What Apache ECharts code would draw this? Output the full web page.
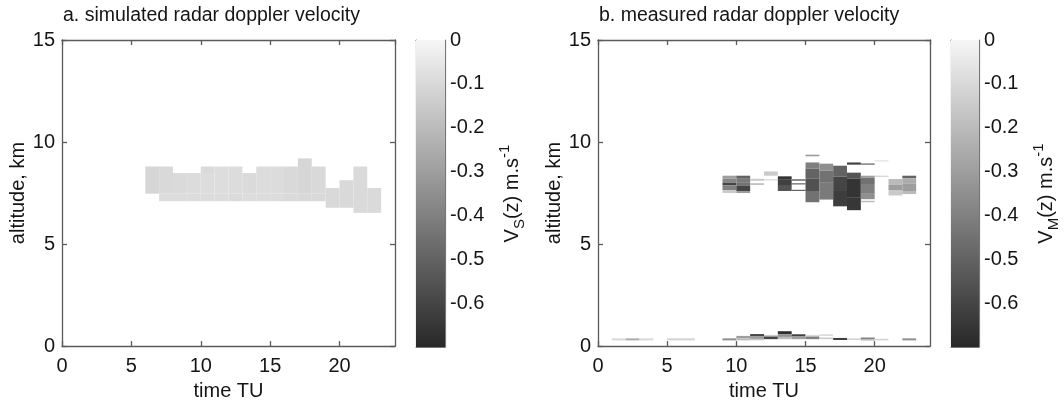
<!DOCTYPE html>
<html><head><meta charset="utf-8">
<script src="https://cdn.jsdelivr.net/npm/echarts@6/dist/echarts.min.js"></script>
<style>html,body{margin:0;padding:0;background:#fff}#c{width:1064px;height:406px}</style>
</head><body><div id="c"></div>
<script>
// ---- axis ranges and ticks ----
const timeRange = [0, 24];
const altitudeRange = [0, 15];
const velocityRange = [-0.7, 0];
const timeTickStep = 5;
const altitudeTickStep = 5;
const velocityTickStep = 0.1;
const binHours = 1;

// ---- simulated doppler velocity cells: [hour start, altitude bottom km, altitude top km, velocity m/s] ----
const simulatedCells = [
  [6, 7.47, 8.80, -0.11],
  [7, 7.10, 7.47, -0.09], [7, 7.47, 8.80, -0.10],
  [8, 7.10, 7.47, -0.09], [8, 7.47, 8.48, -0.095],
  [9, 7.10, 7.47, -0.09], [9, 7.47, 8.48, -0.09],
  [10, 7.10, 7.47, -0.09], [10, 7.47, 8.48, -0.085], [10, 8.48, 8.80, -0.095],
  [11, 7.10, 7.47, -0.09], [11, 7.47, 8.80, -0.085],
  [12, 7.10, 7.47, -0.095], [12, 7.47, 8.80, -0.09],
  [13, 7.10, 7.47, -0.09], [13, 7.47, 8.48, -0.095],
  [14, 7.10, 7.47, -0.09], [14, 7.47, 8.80, -0.09],
  [15, 7.10, 7.47, -0.09], [15, 7.47, 8.80, -0.09],
  [16, 7.10, 7.47, -0.095], [16, 7.47, 8.80, -0.10],
  [17, 7.10, 7.47, -0.10], [17, 7.47, 9.20, -0.11],
  [18, 7.10, 7.47, -0.10], [18, 7.47, 8.80, -0.10],
  [19, 6.78, 7.75, -0.10],
  [20, 6.78, 8.13, -0.10],
  [21, 6.53, 8.80, -0.095],
  [22, 6.53, 7.75, -0.095]
];

// ---- measured doppler velocity cells, cloud layer aloft ----
const measuredCloudCells = [
  [9, 8.20, 8.35, -0.30], [9, 8.00, 8.20, -0.38], [9, 7.87, 8.00, -0.60], [9, 7.65, 7.87, -0.40], [9, 7.50, 7.65, -0.15],
  [10, 8.20, 8.35, -0.50], [10, 8.00, 8.20, -0.42], [10, 7.85, 8.00, -0.45], [10, 7.60, 7.85, -0.60], [10, 7.50, 7.60, -0.30],
  [11, 8.10, 8.20, -0.15], [11, 7.90, 7.98, -0.20],
  [12, 8.35, 8.56, -0.15], [12, 8.12, 8.18, -0.10],
  [13, 8.15, 8.32, -0.66], [13, 7.85, 8.15, -0.62], [13, 7.60, 7.85, -0.55],
  [14, 8.10, 8.18, -0.45], [14, 7.92, 7.98, -0.50], [14, 7.60, 7.66, -0.50],
  [15, 9.30, 9.38, -0.30], [15, 8.70, 9.00, -0.40], [15, 8.20, 8.70, -0.50], [15, 7.60, 8.20, -0.56], [15, 7.05, 7.60, -0.45],
  [16, 8.60, 8.94, -0.35], [16, 8.00, 8.60, -0.45], [16, 7.18, 8.00, -0.42],
  [17, 8.30, 8.84, -0.50], [17, 7.60, 8.30, -0.60], [17, 6.85, 7.60, -0.63],
  [18, 8.89, 9.00, -0.60], [18, 8.20, 8.50, -0.55], [18, 7.30, 8.20, -0.66], [18, 6.66, 7.30, -0.65],
  [19, 8.89, 8.95, -0.50], [19, 8.25, 8.35, -0.30], [19, 7.90, 8.25, -0.45], [19, 7.50, 7.90, -0.40], [19, 7.20, 7.50, -0.35], [19, 7.05, 7.12, -0.20],
  [20, 9.05, 9.10, -0.10], [20, 8.30, 8.35, -0.15],
  [21, 7.90, 8.19, -0.20], [21, 7.65, 7.90, -0.30], [21, 7.38, 7.65, -0.15],
  [22, 8.22, 8.35, -0.50], [22, 7.95, 8.22, -0.25], [22, 7.60, 7.95, -0.30], [22, 7.45, 7.60, -0.20]
];

// ---- measured doppler velocity cells, near-surface layer ----
const measuredSurfaceCells = [
  [1, 0.28, 0.38, -0.10], [2, 0.28, 0.38, -0.25], [3, 0.28, 0.38, -0.10],
  [5, 0.28, 0.38, -0.12], [6, 0.28, 0.38, -0.12],
  [9, 0.28, 0.38, -0.35],
  [10, 0.38, 0.50, -0.30], [10, 0.28, 0.38, -0.20],
  [11, 0.47, 0.59, -0.60], [11, 0.35, 0.47, -0.30], [11, 0.28, 0.35, -0.15],
  [12, 0.47, 0.55, -0.15], [12, 0.34, 0.47, -0.60],
  [13, 0.58, 0.73, -0.68], [13, 0.45, 0.58, -0.35], [13, 0.34, 0.45, -0.20],
  [14, 0.47, 0.58, -0.62], [14, 0.34, 0.47, -0.30],
  [15, 0.47, 0.55, -0.10], [15, 0.34, 0.47, -0.40],
  [16, 0.50, 0.58, -0.10], [16, 0.34, 0.42, -0.15],
  [17, 0.30, 0.40, -0.62],
  [18, 0.30, 0.38, -0.12],
  [19, 0.32, 0.42, -0.40], [19, 0.26, 0.32, -0.15],
  [20, 0.28, 0.36, -0.12],
  [22, 0.28, 0.38, -0.35]
];

// ---- colormap ----
const colorDark = '#282828';
const colorLight = '#f6f6f6';

const FONT = 'Liberation Sans, Arial, Helvetica, sans-serif';
const TXT = '#151515';
const FRAME = '#5a5a5a';

function renderCell(params, api) {
  const t0 = api.value(0), z0 = api.value(1), z1 = api.value(2);
  const p0 = api.coord([t0, z1]);
  const p1 = api.coord([t0 + binHours, z0]);
  return {
    type: 'rect',
    shape: { x: p0[0], y: p0[1], width: p1[0] - p0[0], height: p1[1] - p0[1] },
    style: { fill: api.visual('color') }
  };
}
function renderColorbar(params, api) {
  const p0 = api.coord([0, velocityRange[1]]);
  const p1 = api.coord([1, velocityRange[0]]);
  return {
    type: 'rect',
    shape: { x: p0[0], y: p0[1], width: p1[0] - p0[0], height: p1[1] - p0[1] },
    style: { fill: new echarts.graphic.LinearGradient(0, 0, 0, 1, [
      { offset: 0, color: colorLight }, { offset: 1, color: colorDark }]) }
  };
}

const lineStyle = { color: FRAME, width: 1.3 };
const labelStyle = { color: TXT, fontSize: 20, fontFamily: FONT };
const nameStyle = { color: TXT, fontSize: 20, fontFamily: FONT };

function mainX(grid, bottom) {
  return {
    type: 'value', gridIndex: grid, position: bottom ? 'bottom' : 'top',
    min: timeRange[0], max: timeRange[1], interval: timeTickStep,
    splitLine: { show: false },
    axisLine: { show: true, onZero: false, lineStyle },
    axisTick: { show: true, inside: true, length: 5, lineStyle },
    axisLabel: bottom ? Object.assign({ show: true, margin: 10, showMaxLabel: false }, labelStyle) : { show: false },
    name: bottom ? 'time TU' : '', nameLocation: 'middle', nameGap: 30, nameTextStyle: nameStyle
  };
}
function mainY(grid, left) {
  return {
    type: 'value', gridIndex: grid, position: left ? 'left' : 'right',
    min: altitudeRange[0], max: altitudeRange[1], interval: altitudeTickStep,
    splitLine: { show: false },
    axisLine: { show: true, onZero: false, lineStyle },
    axisTick: { show: true, inside: true, length: 5, lineStyle },
    axisLabel: left ? Object.assign({ show: true, margin: 7 }, labelStyle) : { show: false },
    name: left ? 'altitude, km' : '', nameLocation: 'middle', nameGap: 32, nameRotate: 90, nameTextStyle: nameStyle
  };
}
function cbX(grid, bottom) {
  return {
    type: 'value', gridIndex: grid, position: bottom ? 'bottom' : 'top', min: 0, max: 1,
    splitLine: { show: false }, axisTick: { show: false }, axisLabel: { show: false },
    axisLine: { show: true, onZero: false, lineStyle: { color: '#777', width: 1.2 } }
  };
}
function cbY(grid, right, sub) {
  return {
    type: 'value', gridIndex: grid, position: right ? 'right' : 'left',
    min: velocityRange[0], max: velocityRange[1], interval: velocityTickStep,
    splitLine: { show: false },
    axisLine: { show: true, onZero: false, lineStyle: { color: '#777', width: 1.2 } },
    axisTick: { show: true, inside: true, length: 4, lineStyle: { color: '#777', width: 1 } },
    axisLabel: right ? Object.assign({ show: true, margin: 5, showMinLabel: false,
      formatter: v => String(Math.round(v * 10) / 10) }, labelStyle) : { show: false },
    name: right ? '{v|V}{s|' + sub + '}{v|(z) m.s}{p|-1}' : '',
    nameLocation: 'middle', nameGap: 52, nameRotate: 90,
    nameTextStyle: {
      color: TXT, fontFamily: FONT,
      rich: {
        v: { fontSize: 20, color: TXT, fontFamily: FONT, lineHeight: 30, verticalAlign: 'middle' },
        s: { fontSize: 15, color: TXT, fontFamily: FONT, verticalAlign: 'bottom' },
        p: { fontSize: 15, color: TXT, fontFamily: FONT, verticalAlign: 'top' }
      }
    }
  };
}

const option = {
  animation: false,
  backgroundColor: '#fff',
  title: [
    { text: 'a. simulated radar doppler velocity', left: 58, top: 1,
      textStyle: { fontSize: 19.5, fontWeight: 'normal', color: TXT, fontFamily: FONT } },
    { text: 'b. measured radar doppler velocity', left: 594, top: 1,
      textStyle: { fontSize: 19.5, fontWeight: 'normal', color: TXT, fontFamily: FONT } }
  ],
  grid: [
    { left: 62, top: 40, width: 333, height: 307 },
    { left: 416, top: 40, width: 29, height: 307 },
    { left: 598, top: 40, width: 332, height: 307 },
    { left: 951, top: 40, width: 28, height: 307 }
  ],
  xAxis: [mainX(0, true), mainX(0, false), cbX(1, true), cbX(1, false),
          mainX(2, true), mainX(2, false), cbX(3, true), cbX(3, false)],
  yAxis: [mainY(0, true), mainY(0, false), cbY(1, false), cbY(1, true, 'S'),
          mainY(2, true), mainY(2, false), cbY(3, false), cbY(3, true, 'M')],
  visualMap: {
    type: 'continuous', show: false, min: velocityRange[0], max: velocityRange[1],
    dimension: 3, seriesIndex: [0, 2], inRange: { color: [colorDark, colorLight] }
  },
  series: [
    { type: 'custom', xAxisIndex: 0, yAxisIndex: 0, renderItem: renderCell, clip: true,
      encode: { x: 0, y: [1, 2] }, data: simulatedCells },
    { type: 'custom', xAxisIndex: 2, yAxisIndex: 3, renderItem: renderColorbar,
      data: [[0, 1, velocityRange[0], velocityRange[1]]], silent: true },
    { type: 'custom', xAxisIndex: 4, yAxisIndex: 4, renderItem: renderCell, clip: true,
      encode: { x: 0, y: [1, 2] }, data: measuredSurfaceCells.concat(measuredCloudCells) },
    { type: 'custom', xAxisIndex: 6, yAxisIndex: 7, renderItem: renderColorbar,
      data: [[0, 1, velocityRange[0], velocityRange[1]]], silent: true }
  ]
};
const chart = echarts.init(document.getElementById('c'), null, { renderer: 'canvas' });
chart.setOption(option);
</script></body></html>
